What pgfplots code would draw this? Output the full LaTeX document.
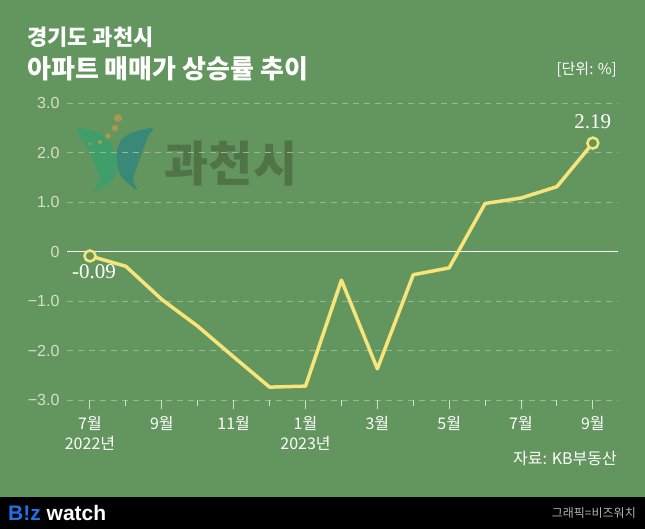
\documentclass[border=0pt]{standalone}
\usepackage{pgfplots}
\pgfplotsset{compat=1.18}
\usepackage{fontspec}
\setmainfont{Liberation Sans}
\newfontfamily\kr{Noto Sans CJK KR}
\newfontfamily\serif{Liberation Serif}
\definecolor{bgc}{RGB}{99,150,94}
\definecolor{linec}{RGB}{247,228,122}
\definecolor{tickc}{RGB}{212,224,206}
\definecolor{gridc}{RGB}{150,186,144}
\definecolor{markc}{RGB}{80,116,72}
\definecolor{wingl}{RGB}{64,158,106}
\definecolor{wingr}{RGB}{58,136,120}
\definecolor{dotc}{RGB}{168,152,82}
\definecolor{bizblue}{RGB}{32,112,232}

\begin{document}
\begin{tikzpicture}[x=1pt,y=1pt]
    \fill[bgc] (0,0) rectangle (645,529);
    \fill[black] (0,0) rectangle (645,32);
    \useasboundingbox (0,0) rectangle (645,529);

    % watermark
    \fill[wingl] plot[smooth cycle, tension=0.6] coordinates {(78,401) (100,396) (111,386) (116,372) (117,359) (110,346) (93,338) (100,349) (96,362) (88,379) (80,393)};
    \fill[wingr] plot[smooth cycle, tension=0.6] coordinates {(152,401) (127,394) (118,382) (117,366) (122,352) (137,339) (133,349) (137,362) (143,379) (148,392)};
    \fill[dotc] (118,411) circle (4);
    \fill[dotc] (115,401) circle (3.2);
    \fill[dotc] (108,393) circle (2.8);
    \fill[dotc] (100,387) circle (2);
    \fill[dotc] (90,385) circle (1.5);
    \node[font=\kr\bfseries\fontsize{48}{56}\selectfont, text=markc] at (231,365) {과천시};

    % titles
    \node[anchor=base west, font=\kr\bfseries\fontsize{22}{26}\selectfont, text=white, inner sep=0] at (27,483) {경기도 과천시};
    \node[anchor=base west, font=\kr\bfseries\fontsize{26}{30}\selectfont, text=white, inner sep=0] at (27,450) {아파트 매매가 상승률 추이};
    \node[anchor=base east, font=\kr\fontsize{15}{17}\selectfont, text=white, inner sep=0] at (617,454) {[단위: \%]};
    \node[anchor=base east, font=\kr\fontsize{16}{18}\selectfont, text=white, inner sep=0] at (617,64) {자료: KB부동산};

    % footer
    \node[anchor=west, font=\bfseries\fontsize{21}{24}\selectfont, inner sep=0] at (8,16) {\textcolor{bizblue}{B!z} \textcolor{white}{watch}};
    \node[anchor=east, font=\kr\fontsize{12}{13}\selectfont, text=black!30, inner sep=0] at (636,16) {그래픽=비즈워치};

    \begin{axis}[
            at={(67pt,129pt)}, anchor=south west,
            scale only axis,
            width=551pt, height=297pt,
            xmin=-0.64, xmax=14.7,
            ymin=-3, ymax=3,
            clip=false,
            axis line style={draw=none},
            xtick pos=bottom, ytick pos=left,
            xtick={0,2,...,14},
            minor xtick={1,3,...,13},
            xticklabels={7월\\2022년, 9월, 11월, 1월\\2023년, 3월, 5월, 7월, 9월},
            xticklabel style={font=\kr\fontsize{16}{20}\selectfont, text=white, align=center, yshift=-4pt},
            tick align=outside,
            major tick length=9pt,
            minor tick length=6pt,
            x tick style={draw=tickc, line width=1pt},
            ytick={-3,-2,-1,1,2,3},
            yticklabels={−3.0,−2.0,−1.0,1.0,2.0,3.0},
            extra y ticks={0},
            extra y tick labels={0},
            extra y tick style={grid style={solid, draw=white, line width=1pt}},
            y tick style={draw=none},
            yticklabel style={font=\fontsize{16}{18}\selectfont, text=tickc, xshift=5pt},
            ymajorgrids,
            grid style={dashed, draw=gridc, line width=0.8pt, dash pattern=on 6pt off 5pt},
        ]
        \addplot[linec, line width=3.5pt, line join=round]
        coordinates {
                (0,-0.09) (1,-0.30) (2,-0.97) (3,-1.51) (4,-2.13)
                (5,-2.74) (6,-2.72) (7,-0.58) (8,-2.37) (9,-0.47)
                (10,-0.33) (11,0.97) (12,1.08) (13,1.31) (14,2.19)
            };
        \addplot[only marks, mark=*, mark size=5.5pt,
            mark options={fill=bgc, draw=linec, line width=2.5pt}]
        coordinates {(0,-0.09) (14,2.19)};
        \node[font=\serif\fontsize{21}{24}\selectfont, text=white] at (axis cs:0.11,-0.41) {-0.09};
        \node[font=\serif\fontsize{21}{24}\selectfont, text=white] at (axis cs:14,2.63) {2.19};
    \end{axis}
\end{tikzpicture}
\end{document}
